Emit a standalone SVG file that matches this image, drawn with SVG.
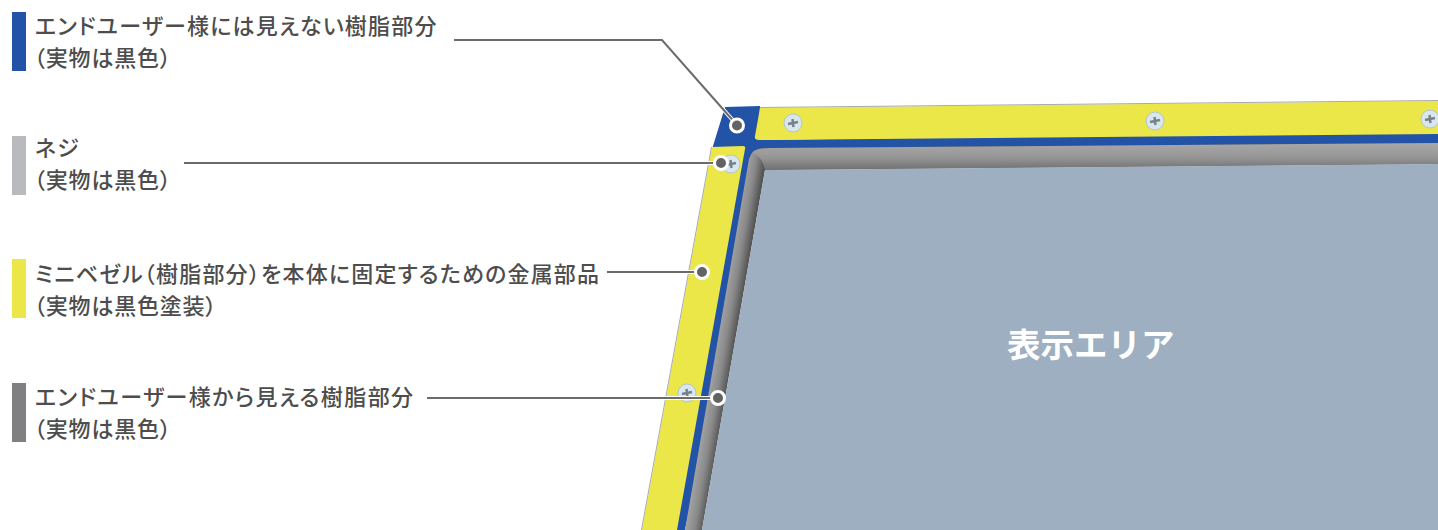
<svg xmlns="http://www.w3.org/2000/svg" width="1438" height="530" viewBox="0 0 1438 530">
<style>
.t{font-family:"Noto Sans CJK JP","Noto Sans",sans-serif;font-size:22px;font-weight:500;fill:#4d4d4d;font-feature-settings:"palt";letter-spacing:1.2px}
.s{letter-spacing:0.8px}
.w{letter-spacing:1.45px}
.l{fill:none;stroke:#6b6b6b;stroke-width:2}
.h{fill:none;stroke:#fff;stroke-width:4}
.d{fill:#636363;stroke:#fff;stroke-width:3}
.e{fill:none;stroke:#aaa;stroke-width:1}
</style>
<defs>
<linearGradient id="gt" x1="0" y1="0" x2="0" y2="1"><stop offset="0" stop-color="#a8a8a8"/><stop offset="0.55" stop-color="#959595"/><stop offset="1" stop-color="#6f6f6f"/></linearGradient>
<linearGradient id="gl" gradientUnits="userSpaceOnUse" x1="685" y1="530" x2="703" y2="533"><stop offset="0" stop-color="#a3a3a3"/><stop offset="0.5" stop-color="#8a8a8a"/><stop offset="1" stop-color="#555"/></linearGradient>
<g id="screw"><circle r="9" fill="#d8e6ee" stroke="#b4c4cc" stroke-width="1"/><path d="M-5 1L5 -1M-0.500 -4L0.500 4" stroke="#77818a" stroke-width="2.500"/></g>
</defs>
<g id="panel">
<path d="M725 107L760 106L759 140L1438 130V144L767 151L685 530H660L713 146Z" fill="#2353a6" />
<path d="M764 148Q752 148 749 159L685 530H702L765 170L1438 164V143Z" fill="url(#gl)"/>
<path d="M770 148L1438 143V164L765 170Q762 156 752 153Q757 148 770 148Z" fill="url(#gt)"/>
<path d="M765 170L1438 164V530H702Z" fill="#9dafc0"/>
<path d="M760 108L1438 101V134L759 140Q754 140 755 136Z" fill="#ece749"/>
<path d="M712 147L743 146Q746 146 745 149L677 530H642Z" fill="#ece749"/>
<path class="e" d="M760 107.500L1438 100.500M711.500 147L641.500 530"/>
</g>
<g id="screws">
<use href="#screw" x="793" y="123"/>
<use href="#screw" x="1155" y="121"/>
<use href="#screw" x="1430" y="119"/>
<use href="#screw" x="731" y="164"/>
<use href="#screw" x="687" y="393"/>
</g>
<g id="connectors">
<path class="h" d="M662 40L737 125"/>
<path class="h" d="M640 163H721M640 272H702M640 398H718"/>
<path class="l" d="M454 40H662L737 125"/>
<path class="l" d="M184 163H721"/>
<path class="l" d="M607 272H702"/>
<path class="l" d="M427 398H718"/>
<circle class="d" cx="737" cy="125.500" r="6.500"/>
<circle class="d" cx="721" cy="163" r="6.500"/>
<circle class="d" cx="702" cy="272" r="6.500"/>
<circle class="d" cx="718" cy="398" r="6.500"/>
</g>
<g id="label-hidden">
<rect x="12" y="12" width="14" height="59" fill="#2353a6"/>
<text class="t" x="35" y="34">エンドユーザー様には見えない樹脂部分</text>
<text class="t s" x="34" y="66">（実物は黒色）</text>
</g>
<g id="label-screw">
<rect x="12" y="136" width="14" height="59" fill="#b9babd"/>
<text class="t" x="35" y="156">ネジ</text>
<text class="t s" x="34" y="188">（実物は黒色）</text>
</g>
<g id="label-bezel">
<rect x="12" y="259" width="14" height="59" fill="#ece749"/>
<text class="t" x="35" y="282">ミニベゼル（樹脂部分）を本体に固定するための金属部品</text>
<text class="t s" x="34" y="314">（実物は黒色塗装）</text>
</g>
<g id="label-visible">
<rect x="12" y="383" width="14" height="59" fill="#808083"/>
<text class="t w" x="35" y="405">エンドユーザー様から見える樹脂部分</text>
<text class="t s" x="34" y="437">（実物は黒色）</text>
</g>
<g id="label-display">
<text x="1007" y="357" style="font-family:'Noto Sans CJK JP',sans-serif;font-size:33.500px;font-weight:700;fill:#fff">表示エリア</text>
</g>
</svg>
